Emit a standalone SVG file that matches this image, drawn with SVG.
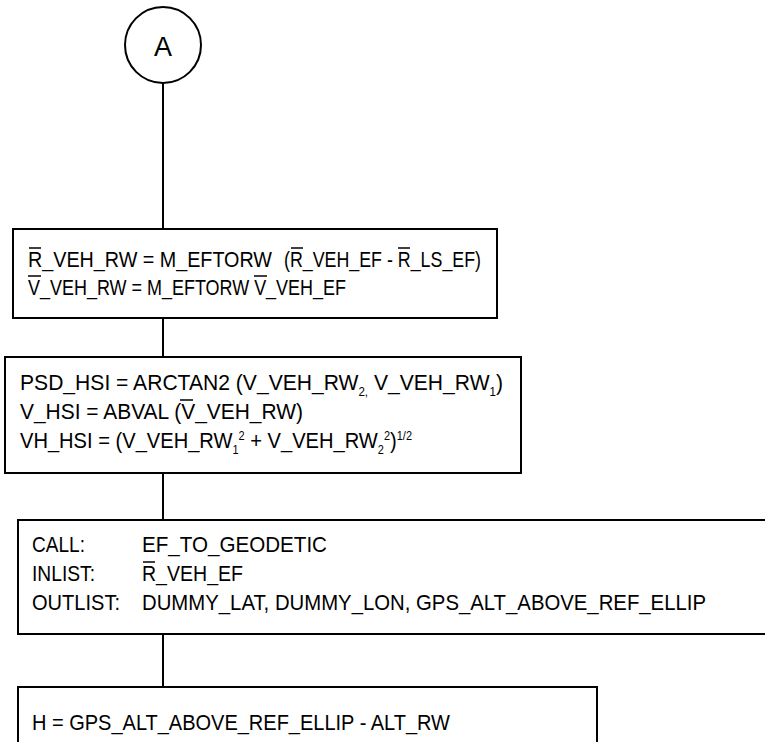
<svg xmlns="http://www.w3.org/2000/svg" width="765" height="742" viewBox="0 0 765 742">
<style>
.box{fill:#fff;stroke:#000;stroke-width:2}
.ln{stroke:#000;stroke-width:2;fill:none}
.ob{stroke:#000;stroke-width:1.5}
text{font-family:"Liberation Sans",Arial,sans-serif;font-size:22px;fill:#000}
.s{font-size:12px}
.big{font-size:27px}
</style>
<rect width="765" height="742" fill="#fff"/>
<g id="connectors">
<line class="ln" x1="163" y1="83" x2="163" y2="229"/>
<line class="ln" x1="163" y1="318" x2="163" y2="357"/>
<line class="ln" x1="163" y1="473" x2="163" y2="520"/>
<line class="ln" x1="163" y1="634" x2="163" y2="687"/>
</g>
<g id="nodeA">
<circle class="box" cx="163" cy="45" r="38"/>
<text class="big" x="154" y="56" textLength="18" lengthAdjust="spacingAndGlyphs">A</text>
</g>
<g id="box1">
<rect class="box" x="13" y="229" width="484" height="89"/>
<text x="28" y="267" textLength="244" lengthAdjust="spacingAndGlyphs">R_VEH_RW = M_EFTORW</text>
<text x="284" y="267" textLength="197" lengthAdjust="spacingAndGlyphs">(R_VEH_EF - R_LS_EF)</text>
<text x="28" y="295" textLength="318" lengthAdjust="spacingAndGlyphs">V_VEH_RW = M_EFTORW V_VEH_EF</text>
<line class="ob" x1="29" y1="248" x2="41" y2="248"/>
<line class="ob" x1="291" y1="248" x2="303" y2="248"/>
<line class="ob" x1="398" y1="248" x2="410" y2="248"/>
<line class="ob" x1="28" y1="276" x2="41" y2="276"/>
<line class="ob" x1="254" y1="276" x2="267" y2="276"/>
</g>
<g id="box2">
<rect class="box" x="5" y="357" width="516" height="116"/>
<text x="20" y="390" textLength="483" lengthAdjust="spacingAndGlyphs">PSD_HSI = ARCTAN2 (V_VEH_RW<tspan class="s" dy="6">2,</tspan><tspan dy="-6"> V_VEH_RW</tspan><tspan class="s" dy="6">1</tspan><tspan dy="-6">)</tspan></text>
<text x="20" y="419" textLength="283" lengthAdjust="spacingAndGlyphs">V_HSI = ABVAL (V_VEH_RW)</text>
<text x="20" y="448" textLength="392" lengthAdjust="spacingAndGlyphs">VH_HSI = (V_VEH_RW<tspan class="s" dy="6">1</tspan><tspan class="s" dy="-14">2</tspan><tspan dy="8"> + V_VEH_RW</tspan><tspan class="s" dy="6">2</tspan><tspan class="s" dy="-14">2</tspan><tspan dy="8">)</tspan><tspan class="s" dy="-8">1/2</tspan></text>
<line class="ob" x1="180" y1="400" x2="193" y2="400"/>
</g>
<g id="box3">
<rect class="box" x="18" y="520" width="760" height="114"/>
<text x="32" y="552" textLength="53" lengthAdjust="spacingAndGlyphs">CALL:</text>
<text x="142" y="552" textLength="185" lengthAdjust="spacingAndGlyphs">EF_TO_GEODETIC</text>
<text x="32" y="581" textLength="63" lengthAdjust="spacingAndGlyphs">INLIST:</text>
<text x="142" y="581" textLength="101" lengthAdjust="spacingAndGlyphs">R_VEH_EF</text>
<line class="ob" x1="143" y1="562" x2="155" y2="562"/>
<text x="32" y="610" textLength="88" lengthAdjust="spacingAndGlyphs">OUTLIST:</text>
<text x="142" y="610" textLength="564" lengthAdjust="spacingAndGlyphs">DUMMY_LAT, DUMMY_LON, GPS_ALT_ABOVE_REF_ELLIP</text>
</g>
<g id="box4">
<rect class="box" x="18" y="687" width="579" height="70"/>
<text x="32" y="730" textLength="418" lengthAdjust="spacingAndGlyphs">H = GPS_ALT_ABOVE_REF_ELLIP - ALT_RW</text>
</g>
</svg>
